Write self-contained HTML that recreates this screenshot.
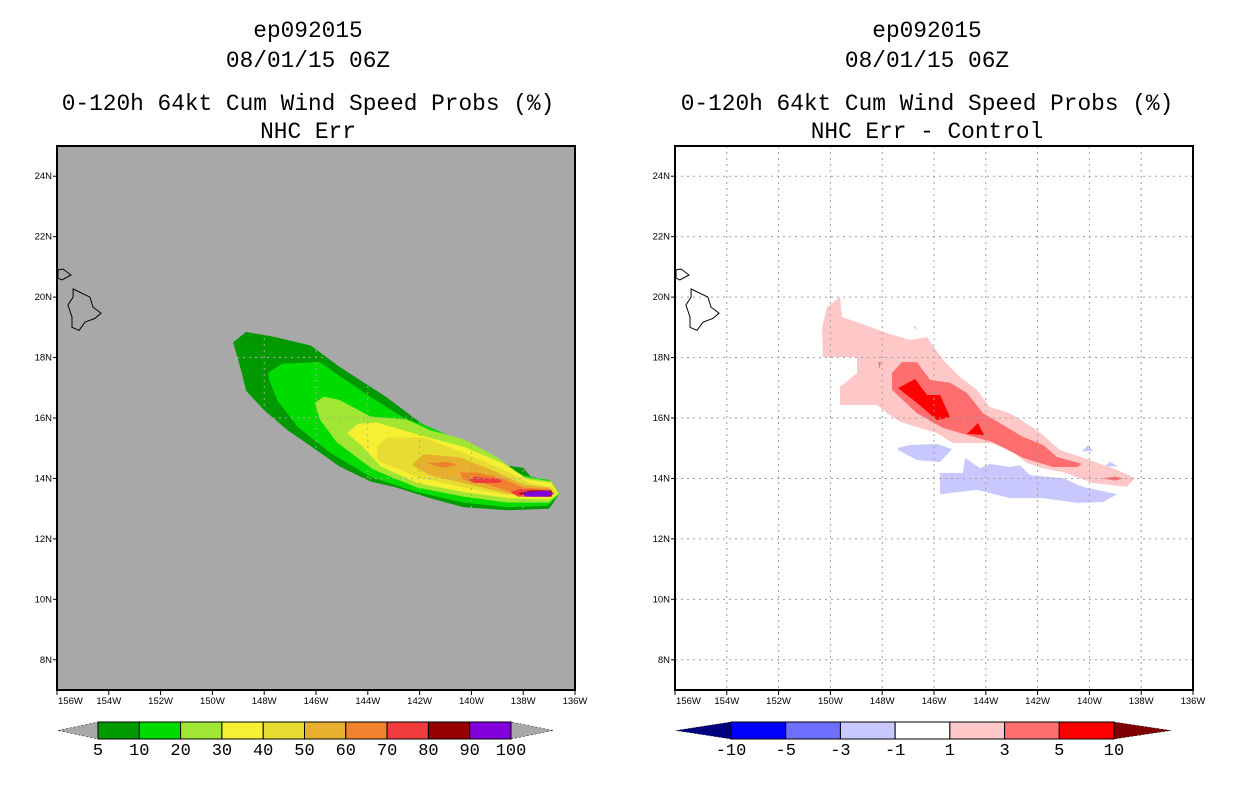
<!DOCTYPE html>
<html><head><meta charset="utf-8">
<style>
body{margin:0;background:#fff;width:1236px;height:800px;overflow:hidden}
svg{display:block}
.t{font-family:"Liberation Mono",monospace;font-size:22.8px;fill:#000;text-anchor:middle}
.ax{font-family:"Liberation Sans",sans-serif;font-size:9.5px;fill:#000}
.cb{font-family:"Liberation Mono",monospace;font-size:17px;fill:#000;text-anchor:middle}
</style></head>
<body>
<svg id="chart" width="1236" height="800">
 <g>
  <text class="t" x="308" y="37">ep092015</text>
  <text class="t" x="308" y="67">08/01/15 06Z</text>
  <text class="t" x="308" y="110">0-120h 64kt Cum Wind Speed Probs (%)</text>
  <text class="t" x="308" y="138">NHC Err</text>
 </g>
 <g>
  <text class="t" x="927" y="37">ep092015</text>
  <text class="t" x="927" y="67">08/01/15 06Z</text>
  <text class="t" x="927" y="110">0-120h 64kt Cum Wind Speed Probs (%)</text>
  <text class="t" x="927" y="138">NHC Err - Control</text>
 </g>
 <g id="left"></g>
 <g id="right"></g>
 <g id="lcb"></g>
 <g id="rcb"></g>
</svg>
<script>
// Map domain (degrees west, degrees north)
const lonTicks = [156,154,152,150,148,146,144,142,140,138,136];
const latTicks = [8,10,12,14,16,18,20,22,24];
// Left panel: cumulative probability contours [lonW, lat]
const probLevels = [5,10,20,30,40,50,60,70,80,90];
const probColors = ["#009a00","#00dc00","#a0e632","#f5f032","#e6dc32","#e6af2d","#f0822d","#f03c3c","#960000","#8200dc"];
const prob5 = [[149.2,18.5],[148.7,18.85],[147.7,18.7],[146.2,18.4],[145.1,17.7],[143.3,16.7],[141.9,15.8],[140.3,15.2],[138.8,14.45],[138.0,14.35],[137.6,13.95],[136.9,13.9],[136.6,13.5],[137.0,13.0],[138.6,12.95],[140.3,13.05],[141.6,13.35],[142.9,13.7],[143.9,13.9],[145.1,14.4],[146.0,14.95],[147.1,15.6],[148.0,16.25],[148.7,16.9],[148.9,17.6]];
const prob10 = [[147.85,17.5],[147.3,17.8],[145.85,17.85],[145.1,17.4],[143.9,16.7],[142.6,16.0],[141.6,15.7],[140.3,15.2],[139.0,14.5],[138.0,14.1],[137.0,13.95],[136.6,13.5],[137.05,13.1],[138.6,13.05],[140.3,13.2],[142.1,13.55],[143.9,14.05],[145.45,14.85],[146.7,15.7],[147.5,16.6],[147.8,17.25]];
const prob20 = [[146.05,16.5],[145.7,16.7],[145.1,16.6],[143.9,16.05],[142.5,15.95],[141.6,15.6],[140.3,15.3],[139.0,14.7],[138.0,14.05],[136.9,13.9],[136.6,13.5],[137.0,13.2],[138.6,13.2],[140.3,13.4],[142.1,13.7],[143.8,14.3],[145.2,15.2],[145.85,15.95]];
const prob30 = [[144.8,15.5],[144.4,15.8],[143.65,15.85],[141.85,15.4],[140.3,15.05],[138.8,14.5],[137.75,13.95],[136.9,13.85],[136.65,13.5],[137.0,13.3],[138.6,13.35],[140.3,13.55],[142.1,13.85],[143.5,14.4],[144.2,15.05]];
const prob40 = [[143.65,15.05],[143.25,15.35],[141.85,15.35],[140.3,14.85],[138.8,14.3],[137.75,13.85],[136.85,13.7],[136.7,13.5],[137.0,13.35],[138.6,13.45],[140.3,13.7],[142.1,14.05],[143.65,14.6]];
const prob50 = [[142.3,14.45],[141.85,14.8],[140.45,14.7],[139.0,14.2],[138.0,13.8],[137.0,13.7],[136.8,13.5],[137.05,13.4],[138.6,13.5],[140.3,13.85],[141.6,14.1]];
const prob60a = [[141.7,14.5],[140.95,14.55],[140.55,14.45],[141.1,14.35]];
const prob60b = [[140.45,14.2],[139.8,14.2],[138.8,14.0],[138.0,13.7],[137.0,13.65],[136.8,13.5],[137.05,13.4],[138.5,13.55],[139.55,13.85],[140.3,13.95]];
const prob70a = [[140.1,13.95],[139.9,14.05],[139.0,14.0],[138.8,13.9],[139.0,13.85],[139.9,13.85]];
const prob70b = [[138.5,13.55],[138.1,13.65],[137.0,13.6],[136.8,13.5],[137.05,13.4],[138.2,13.4]];
const prob80 = [[138.2,13.5],[137.7,13.6],[136.9,13.6],[136.9,13.4],[137.7,13.4]];
const prob90 = [[137.95,13.55],[137.05,13.6],[136.85,13.5],[137.05,13.4],[137.95,13.4]];
// Right panel: difference contours
const diffLabels = ["-10","-5","-3","-1","1","3","5","10"];
const diffColors = ["#0000ff","#6e6eff","#c8c8ff","#ffffff","#ffc8c8","#ff6e6e","#ff0000"];
const diffPink = [[150.29,18.02],[150.32,19.01],[150.13,19.67],[149.63,20.0],[149.55,19.34],[148.86,19.14],[147.81,18.81],[146.93,18.58],[146.27,18.68],[145.65,17.92],[145.0,17.36],[144.34,16.93],[143.84,16.36],[143.07,16.16],[142.02,15.6],[141.14,14.94],[139.98,14.61],[138.93,14.28],[138.24,14.01],[138.55,13.72],[139.86,13.85],[141.02,14.21],[141.79,14.34],[142.41,14.51],[143.07,14.94],[143.84,15.17],[145.27,15.17],[145.88,15.5],[146.54,15.67],[147.31,15.87],[147.81,16.16],[148.2,16.43],[149.63,16.43],[149.63,17.03],[148.97,17.49],[148.97,18.02]];
const diffPinkDot = [[146.8,19.0],[146.7,19.05],[146.65,18.9]];
const diffSalmon = [[147.62,17.49],[147.24,17.85],[146.66,17.85],[146.15,17.26],[145.38,17.16],[144.73,16.83],[144.11,16.16],[143.45,15.83],[142.56,15.37],[141.79,15.11],[141.25,14.71],[140.29,14.48],[140.48,14.38],[141.41,14.38],[142.56,14.68],[143.72,15.2],[144.73,15.44],[145.65,15.67],[146.66,16.16],[147.62,16.93]];
const diffSalmonB = [[139.5,14.0],[139.0,14.06],[138.7,14.0],[139.0,13.93]];
const diffSalmonDot = [[148.15,17.85],[148.05,17.85],[148.1,17.6]];
const diffRedA = [[147.39,16.99],[146.73,17.29],[146.27,16.76],[145.77,16.76],[145.38,16.03],[145.88,15.93],[146.66,16.5]];
const diffRedB = [[144.73,15.47],[144.3,15.83],[144.07,15.44]];
const diffBlueA = [[147.39,15.01],[146.93,15.11],[145.88,15.14],[145.3,14.97],[145.77,14.54],[146.66,14.61],[147.4,14.95]];
const diffBlueB = [[145.77,14.18],[144.88,14.18],[144.8,14.68],[144.22,14.34],[143.84,14.48],[143.07,14.38],[142.68,14.44],[142.29,14.11],[141.02,14.01],[140.25,13.72],[138.93,13.48],[139.47,13.22],[140.48,13.19],[141.79,13.35],[143.07,13.35],[144.34,13.62],[145.77,13.48]];
const diffBlueC = [[140.3,14.9],[140.05,15.1],[139.85,14.9]];
const diffBlueD = [[139.4,14.4],[139.2,14.55],[138.9,14.4]];
// Hawaii coastline
const bigIsland = [[155.38,20.27],[154.73,20.0],[154.61,19.67],[154.3,19.47],[154.53,19.3],[154.92,19.17],[155.15,18.9],[155.42,19.0],[155.42,19.34],[155.58,19.74],[155.38,20.0]];
const maui = [[155.96,20.9],[155.77,20.93],[155.46,20.73],[155.81,20.57],[155.96,20.63]];
const probCbLabels = ["5","10","20","30","40","50","60","70","80","90","100"];

const NS="http://www.w3.org/2000/svg";
const top0=146,bot0=690,latMin=7,latMax=25,lonW0=156,lonW1=136;
function xS(px0,px1,lw){return px0+(lonW0-lw)/(lonW0-lonW1)*(px1-px0);}
function yS(lat){return top0+(latMax-lat)/(latMax-latMin)*(bot0-top0);}
function mk(tag,attrs,parent){const e=document.createElementNS(NS,tag);for(const k in attrs)e.setAttribute(k,attrs[k]);parent.appendChild(e);return e;}
function poly(g,pts,px0,px1,fill,stroke,name){
  const p=mk('polygon',{points:pts.map(q=>xS(px0,px1,q[0]).toFixed(1)+','+yS(q[1]).toFixed(1)).join(' '),fill:fill,stroke:stroke||'none','stroke-width':stroke?1:0},g);
  
  
  return p;
}
function panel(gid,px0,px1,bg,gridCol,layers){
  const g=document.getElementById(gid);
  const bgR=mk('rect',{x:px0,y:top0,width:px1-px0,height:bot0-top0,fill:bg},g);
  
  
  layers(g);
  const gr=mk('g',{},g);
  
  
  lonTicks.slice(1,-1).forEach(l=>{const x=xS(px0,px1,l);const ln=mk('line',{x1:x,x2:x,y1:top0,y2:bot0,stroke:gridCol,'stroke-dasharray':'2,4','stroke-width':1},gr);
    
    });
  latTicks.forEach(l=>{const y=yS(l);const ln=mk('line',{x1:px0,x2:px1,y1:y,y2:y,stroke:gridCol,'stroke-dasharray':'2,4','stroke-width':1},gr);
    
    });
  poly(g,bigIsland,px0,px1,'none','#000','coast-big-island');
  poly(g,maui,px0,px1,'none','#000','coast-maui');
  const fr=mk('rect',{x:px0,y:top0,width:px1-px0,height:bot0-top0,fill:'none',stroke:'#000','stroke-width':2},g);
  
  
  lonTicks.forEach((l,i)=>{const x=xS(px0,px1,l);
    const tk=mk('line',{x1:x,x2:x,y1:bot0,y2:bot0+5,stroke:'#000'},g);
    
    
    const tx=mk('text',{x:i===0?x+1:x,y:bot0+14,'class':'ax','text-anchor':i===0?'start':'middle'},g);tx.textContent=l+'W';
    
    });
  latTicks.forEach(l=>{const y=yS(l);
    const tk=mk('line',{x1:px0-4,x2:px0,y1:y,y2:y,stroke:'#000'},g);
    
    
    const tx=mk('text',{x:px0-5,y:y+3,'class':'ax','text-anchor':'end'},g);tx.textContent=l+'N';
    
    });
}
panel('left',57,575,'#a8a8a8','#a8a8a8',g=>{
  const L=[[prob5],[prob10],[prob20],[prob30],[prob40],[prob50],[prob60a,prob60b],[prob70a,prob70b],[prob80],[prob90]];
  L.forEach((set,i)=>set.forEach(p=>poly(g,p,57,575,probColors[i],null,'prob-contour-'+probLevels[i])));
});
panel('right',675,1193,'#ffffff','#a0a0a0',g=>{
  poly(g,diffPink,675,1193,diffColors[4],null,'diff-contour-1-3');
  poly(g,diffPinkDot,675,1193,diffColors[4],null,'diff-contour-1-3-dot');
  poly(g,diffSalmon,675,1193,diffColors[5],null,'diff-contour-3-5');
  poly(g,diffSalmonB,675,1193,diffColors[5],null,'diff-contour-3-5-east');
  poly(g,diffSalmonDot,675,1193,diffColors[5],null,'diff-contour-3-5-dot');
  poly(g,diffRedA,675,1193,diffColors[6],null,'diff-contour-5-10-west');
  poly(g,diffRedB,675,1193,diffColors[6],null,'diff-contour-5-10-east');
  [diffBlueA,diffBlueB,diffBlueC,diffBlueD].forEach(p=>poly(g,p,675,1193,diffColors[2],null,'diff-contour-neg1-neg3'));
});
// colorbars
function colorbar(gid,x0,x1,t0,t1,y0,y1,cols,labels,lc,rc){
  const g=document.getElementById(gid);const n=cols.length;const w=(x1-x0)/n;const ym=(y0+y1)/2;
  const lt=mk('polygon',{points:`${t0},${ym} ${x0},${y0} ${x0},${y1}`,fill:lc,stroke:'#000','stroke-width':0.5,'stroke-dasharray':'2,2'},g);
  
  
  const rt=mk('polygon',{points:`${t1},${ym} ${x1},${y0} ${x1},${y1}`,fill:rc,stroke:'#000','stroke-width':0.5,'stroke-dasharray':'2,2'},g);
  
  
  cols.forEach((c,i)=>{const r=mk('rect',{x:x0+i*w,y:y0,width:w,height:y1-y0,fill:c,stroke:'#000','stroke-width':1},g);
    
    });
  labels.forEach((l,i)=>{const t=mk('text',{x:x0+i*w,y:y1+16,'class':'cb'},g);t.textContent=l;
    
    });
}
colorbar('lcb',98,511,58,553,722,739,probColors,probCbLabels,'#a8a8a8','#a8a8a8');
colorbar('rcb',731,1114,676,1171,722,739,diffColors,diffLabels,'#00007f','#7f0000');
</script>
</body></html>
